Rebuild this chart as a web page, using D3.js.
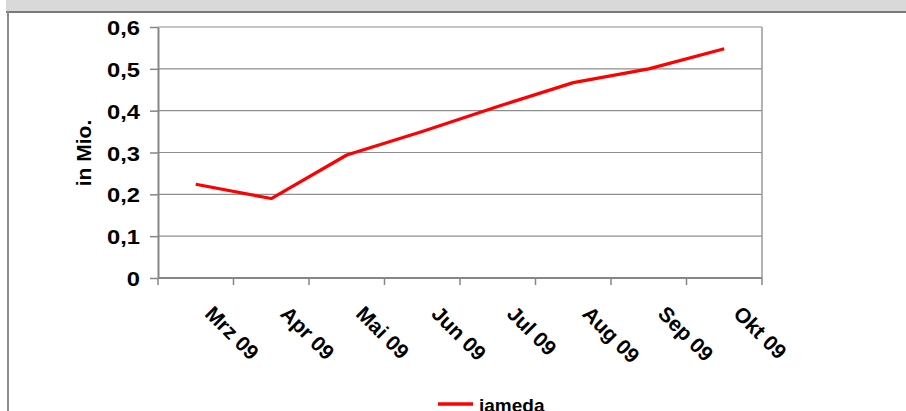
<!DOCTYPE html>
<html>
<head>
<meta charset="utf-8">
<script src="https://cdn.jsdelivr.net/npm/d3@7"></script>
<style>
  html, body { margin: 0; padding: 0; background: #fff; }
  svg { display: block; font-family: "Liberation Sans", Arial, sans-serif; }
</style>
</head>
<body>
<svg id="chart" width="906" height="411"></svg>
<script>
// data
var months = ['Mrz 09', 'Apr 09', 'Mai 09', 'Jun 09', 'Jul 09', 'Aug 09', 'Sep 09', 'Okt 09'];
var jameda = [0.224, 0.190, 0.294, 0.350, 0.410, 0.467, 0.500, 0.548];
var yTicks = [0, 0.1, 0.2, 0.3, 0.4, 0.5, 0.6];
var seriesName = 'jameda';
var yTitle = 'in Mio.';

(function() {
var svg = d3.select('#chart'),
    pLeft = 158, pRight = 762, pTop = 27, pBottom = 278,
    grey = '#868686';

var x = d3.scaleBand().domain(months).range([pLeft, pRight]).padding(0);
var y = d3.scaleLinear().domain([0, 0.6]).range([pBottom, pTop]);

// frame of the embedded chart (top band + left edge)
svg.append('rect').attr('x', 6).attr('y', 0).attr('width', 900).attr('height', 12)
  .attr('fill', '#d9d9d9');
svg.append('line').attr('x1', 6).attr('x2', 906).attr('y1', 12).attr('y2', 12)
  .attr('stroke', '#7a7a7a').attr('stroke-width', 2);
svg.append('line').attr('x1', 8).attr('x2', 8).attr('y1', 11).attr('y2', 411)
  .attr('stroke', '#8c8c8c').attr('stroke-width', 2);

// gridlines
svg.append('g').selectAll('line')
  .data(yTicks.slice(1))
  .enter().append('line')
  .attr('x1', pLeft).attr('x2', pRight)
  .attr('y1', function(d) { return y(d); })
  .attr('y2', function(d) { return y(d); })
  .attr('stroke', '#8e8e8e').attr('stroke-width', 1.2);

// right border of the plot
svg.append('line').attr('x1', pRight).attr('x2', pRight).attr('y1', pTop).attr('y2', pBottom)
  .attr('stroke', '#9a9a9a').attr('stroke-width', 1.5);

// y axis
var fmt = function(d) { return d === 0 ? '0' : d.toFixed(1).replace('.', ','); };
var yAxis = svg.append('g')
  .attr('transform', 'translate(' + pLeft + ',0)')
  .call(d3.axisLeft(y).tickValues(yTicks).tickFormat(fmt).tickSize(8).tickSizeOuter(0));
yAxis.select('.domain').attr('stroke', grey).attr('stroke-width', 2);
yAxis.selectAll('.tick line').attr('stroke', grey).attr('stroke-width', 1.5);
yAxis.selectAll('.tick text')
  .attr('font-family', '"Liberation Sans", Arial, sans-serif')
  .attr('font-size', 21).attr('font-weight', 'bold').attr('fill', '#000')
  .attr('x', -18 / 1.13).attr('dy', '0.36em')
  .attr('transform', 'scale(1.13,1)');

// x axis: line + ticks on category boundaries
svg.append('line').attr('x1', pLeft).attr('x2', pRight).attr('y1', pBottom).attr('y2', pBottom)
  .attr('stroke', grey).attr('stroke-width', 2);
svg.append('g').selectAll('line')
  .data(months.concat(['end']))
  .enter().append('line')
  .attr('x1', function(d) { return d === 'end' ? x.range()[1] : x(d); })
  .attr('x2', function(d) { return d === 'end' ? x.range()[1] : x(d); })
  .attr('y1', pBottom).attr('y2', pBottom + 7)
  .attr('stroke', grey).attr('stroke-width', 1.5);

var xAxis = svg.append('g')
  .attr('transform', 'translate(0,' + pBottom + ')')
  .call(d3.axisBottom(x).tickSize(0));
xAxis.select('.domain').remove();
xAxis.selectAll('.tick text')
  .attr('font-family', '"Liberation Sans", Arial, sans-serif')
  .attr('font-size', 21).attr('font-weight', 'bold').attr('fill', '#000')
  .attr('text-anchor', 'start')
  .attr('x', 0).attr('y', 0).attr('dy', 0)
  .attr('transform', 'translate(8,37) rotate(45)');

// y title
svg.append('text')
  .attr('transform', 'translate(91,153) rotate(-90)')
  .attr('text-anchor', 'middle')
  .attr('font-size', 21).attr('font-weight', 'bold')
  .text(yTitle);

// the series
var line = d3.line()
  .x(function(d, i) { return x(months[i]) + x.bandwidth() / 2; })
  .y(function(d) { return y(d); });
svg.append('path')
  .datum(jameda)
  .attr('d', line)
  .attr('fill', 'none')
  .attr('stroke', '#ff0000')
  .attr('stroke-width', 3.2)
  .attr('stroke-linejoin', 'round');

// legend
svg.append('line').attr('x1', 438).attr('x2', 473).attr('y1', 404).attr('y2', 404)
  .attr('stroke', '#ff0000').attr('stroke-width', 3.5);
svg.append('text').attr('x', 479).attr('y', 412)
  .attr('font-size', 19).attr('font-weight', 'bold')
  .text(seriesName);
})();
</script>
</body>
</html>
